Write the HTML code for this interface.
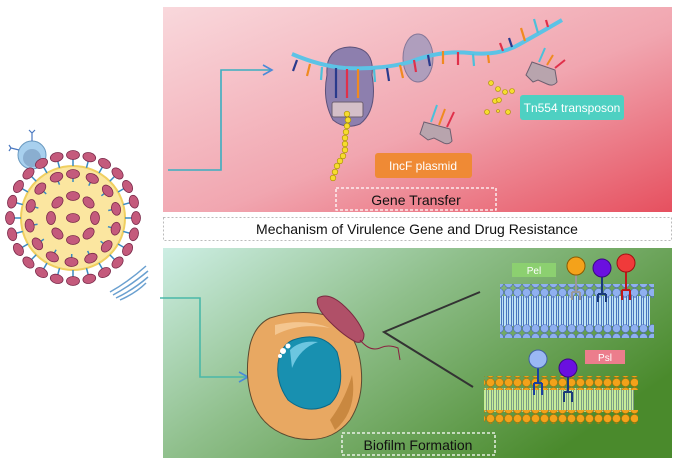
<!DOCTYPE html>
<html><head><meta charset="utf-8"><style>
html,body{margin:0;padding:0;background:#fff;width:677px;height:468px;overflow:hidden}
svg{display:block}
text{font-family:"Liberation Sans",sans-serif}
</style></head><body>
<svg width="677" height="468" viewBox="0 0 677 468" xmlns="http://www.w3.org/2000/svg">
<defs>
<linearGradient id="gtop" x1="0" y1="0" x2="1" y2="1">
<stop offset="0" stop-color="#f9d8dc"/><stop offset="0.55" stop-color="#f1a6b0"/><stop offset="1" stop-color="#e6505f"/>
</linearGradient>
<linearGradient id="gbot" x1="0" y1="0" x2="1" y2="0.6">
<stop offset="0" stop-color="#cdeee4"/><stop offset="0.45" stop-color="#8fbf8b"/><stop offset="1" stop-color="#4a8a2c"/>
</linearGradient>
<pattern id="pb" width="9" height="9" patternUnits="userSpaceOnUse"><circle cx="4.5" cy="4.5" r="4" fill="#8fb0f0" stroke="#4a66b8" stroke-width="0.6"/></pattern>
<pattern id="po" width="9" height="9" patternUnits="userSpaceOnUse"><circle cx="4.5" cy="4.5" r="4" fill="#f3a21a" stroke="#b26d00" stroke-width="0.6"/></pattern>
<pattern id="tb" width="5" height="30" patternUnits="userSpaceOnUse"><rect width="5" height="30" fill="#bfe3f5"/><path d="M1.5 0V30M3.5 0V30" stroke="#2d5bb0" stroke-width="0.8"/></pattern>
<pattern id="tg" width="5" height="30" patternUnits="userSpaceOnUse"><rect width="5" height="30" fill="#c6ec9a"/><path d="M1.5 0V30M3.5 0V30" stroke="#6a8a80" stroke-width="0.8"/></pattern>
</defs>

<rect x="163" y="7" width="509" height="205" fill="url(#gtop)"/>
<rect x="163.5" y="217.5" width="508" height="23" fill="#fff" stroke="#bbb" stroke-dasharray="2,2"/>
<text x="417" y="234" font-size="14" text-anchor="middle" fill="#111">Mechanism of Virulence Gene and Drug Resistance</text>
<rect x="163" y="248" width="509" height="210" fill="url(#gbot)"/>

<path d="M168 170H221V70H270" fill="none" stroke="#3aaec0" stroke-width="1.6"/>
<path d="M263 65L272 70L263 75" fill="none" stroke="#4a8ad8" stroke-width="1.6"/>
<path d="M160 298H200V377H246" fill="none" stroke="#4ab8a8" stroke-width="1.6"/>
<path d="M239 372L248 377L239 382" fill="none" stroke="#4a8ad8" stroke-width="1.6"/>

<path d="M327 75 Q325 48 350 47 Q375 48 372 75 Q378 110 360 124 Q345 130 333 120 Q322 100 327 75Z" fill="#8d7fae" stroke="#5d527a" stroke-width="1"/>
<ellipse cx="418" cy="58" rx="15" ry="24" fill="#a89cbd" stroke="#7a7094" opacity="0.9"/>
<path d="M292 54 Q320 66 345 68 Q380 70 410 62 Q440 50 470 53 Q500 56 520 44 Q545 30 562 20" fill="none" stroke="#5cc3e6" stroke-width="4"/>
<g stroke-width="2.2">
<path d="M297 60L293 71" stroke="#2a3a8c"/><path d="M310 64L307 76" stroke="#f08a20"/><path d="M322 67L321 80" stroke="#4cc0da"/>
<path d="M336 68V98" stroke="#2a3a8c"/><path d="M347 69V98" stroke="#e0304a"/><path d="M358 69V98" stroke="#f08a20"/><path d="M374 69L375 82" stroke="#4cc0da"/>
<path d="M387 68L389 81" stroke="#2a3a8c"/><path d="M400 65L403 78" stroke="#f08a20"/><path d="M414 60L416 72" stroke="#e0304a"/>
<path d="M428 55L430 66" stroke="#2a3a8c"/><path d="M443 51V64" stroke="#f08a20"/><path d="M458 52V65" stroke="#e0304a"/><path d="M473 54L474 66" stroke="#4cc0da"/>
<path d="M488 55L489 63" stroke="#f08a20"/><path d="M503 51L500 43" stroke="#e0304a"/><path d="M512 47L509 38" stroke="#2a3a8c"/>
<path d="M525 41L521 28" stroke="#f08a20"/><path d="M538 33L534 19" stroke="#4cc0da"/><path d="M548 27L546 20" stroke="#e0304a"/>
</g>
<rect x="332" y="102" width="31" height="15" rx="2" fill="#d4bfc8" stroke="#6d5f70"/>
<g fill="#f6dc2e" stroke="#a88e00" stroke-width="0.6">
<circle cx="347" cy="114" r="2.8"/><circle cx="348" cy="120" r="2.8"/><circle cx="347" cy="126" r="2.8"/><circle cx="346" cy="132" r="2.8"/><circle cx="345" cy="138" r="2.8"/><circle cx="345" cy="144" r="2.8"/><circle cx="345" cy="150" r="2.8"/><circle cx="343" cy="156" r="2.8"/><circle cx="340" cy="161" r="2.8"/><circle cx="337" cy="166" r="2.8"/><circle cx="335" cy="172" r="2.8"/><circle cx="333" cy="178" r="2.8"/>
<circle cx="491" cy="83" r="2.5"/><circle cx="498" cy="89" r="2.5"/><circle cx="505" cy="92" r="2.5"/><circle cx="512" cy="91" r="2.5"/><circle cx="495" cy="101" r="2.5"/><circle cx="499" cy="100" r="2.5"/><circle cx="487" cy="112" r="2.5"/><circle cx="508" cy="112" r="2.5"/><circle cx="498" cy="111" r="1.5"/>
</g>
<g>
<path d="M424 122L450 129L452 141Q448 146 442 142L434 138L428 140L420 134Z" fill="#b8a4ad" stroke="#6d5f70"/>
<path d="M431 122L437 105" stroke="#4cc0da" stroke-width="2"/><path d="M439 125L445 109" stroke="#f08a20" stroke-width="2"/><path d="M447 127L454 112" stroke="#e0304a" stroke-width="2"/>
<path d="M532 62L555 70L557 82Q553 87 547 84L538 80L533 82L526 75Z" fill="#b8a4ad" stroke="#6d5f70"/>
<path d="M539 62L545 48" stroke="#4cc0da" stroke-width="2"/><path d="M547 65L553 55" stroke="#f08a20" stroke-width="2"/><path d="M555 68L565 60" stroke="#e0304a" stroke-width="2"/>
</g>
<rect x="375" y="153" width="97" height="25" rx="3" fill="#ef8a35"/>
<text x="423" y="170" font-size="12" text-anchor="middle" fill="#fff">IncF plasmid</text>
<rect x="520" y="95" width="104" height="25" rx="3" fill="#4ed0c2"/>
<text x="572" y="112" font-size="12" text-anchor="middle" fill="#fff">Tn554 transposon</text>
<rect x="336" y="188" width="160" height="22" fill="none" stroke="#fff" stroke-width="1.3" stroke-dasharray="3,2"/>
<text x="416" y="205" font-size="14" text-anchor="middle" fill="#111">Gene Transfer</text>

<path d="M270 318 Q300 308 330 316 Q355 330 360 360 Q366 395 350 420 Q330 445 295 438 Q262 430 252 400 Q244 375 250 345 Q255 325 270 318Z" fill="#e8a862" stroke="#5a4a30" stroke-width="1"/>
<path d="M275 325 Q305 318 330 328 Q300 322 275 335Z" fill="#f4c690"/>
<path d="M330 420 Q345 400 352 375 Q358 410 335 430Z" fill="#c98840"/>
<path d="M293 340 Q322 330 337 352 Q347 388 330 404 Q308 416 288 400 Q274 380 279 358 Q283 344 293 340Z" fill="#1890b0" stroke="#0a6a8a"/>
<path d="M290 350 Q300 340 318 342 Q300 348 292 368Z" fill="#6cc6e0"/>
<circle cx="283" cy="351" r="3" fill="#fff"/><circle cx="288" cy="346" r="2.5" fill="#fff"/><circle cx="280" cy="356" r="2" fill="#fff"/>
<path d="M318 298 Q328 292 342 304 Q358 318 364 334 Q364 344 356 342 Q344 336 330 322 Q314 306 318 298Z" fill="#b05068" stroke="#7a2a40"/>
<path d="M360 340 Q370 352 380 348 Q388 344 398 348 L400 360" fill="none" stroke="#8a2040" stroke-width="1"/>
<path d="M480 292L384 332L473 387" fill="none" stroke="#333" stroke-width="2"/>

<rect x="500" y="296" width="150" height="30" fill="url(#tb)"/>
<rect x="500" y="284" width="154" height="14" fill="url(#pb)"/>
<rect x="500" y="324" width="154" height="14" fill="url(#pb)"/>
<rect x="484" y="388" width="150" height="24" fill="url(#tg)"/>
<rect x="484" y="376" width="154" height="14" fill="url(#po)"/>
<rect x="484" y="410" width="154" height="14" fill="url(#po)"/>
<g stroke-width="2" fill="none">
<path d="M576 275V292M572 292V300M580 292V300M572 292H580" stroke="#999"/>
<path d="M602 277V294M598 294V302M606 294V302M598 294H606" stroke="#1a3a7a"/>
<path d="M626 272V290M622 290V300M630 290V300M622 290H630" stroke="#c01818"/>
<path d="M538 368V383M534 383V395M542 383V395M534 383H542" stroke="#1a40a0"/>
<path d="M568 377V392M564 392V402M572 392V402M564 392H572" stroke="#1a3a7a"/>
</g>
<circle cx="576" cy="266" r="9" fill="#f4a21a" stroke="#8a5a00"/>
<circle cx="602" cy="268" r="9" fill="#6a10e0" stroke="#3a0a80"/>
<circle cx="626" cy="263" r="9" fill="#f03a3a" stroke="#a01010"/>
<circle cx="538" cy="359" r="9" fill="#9ab8f4" stroke="#4060a0"/>
<circle cx="568" cy="368" r="9" fill="#6a10e0" stroke="#3a0a80"/>
<rect x="512" y="263" width="44" height="14" fill="#8cd070"/>
<text x="534" y="274" font-size="10" text-anchor="middle" fill="#fff">Pel</text>
<rect x="585" y="350" width="40" height="14" fill="#ec7d8c"/>
<text x="605" y="361" font-size="10" text-anchor="middle" fill="#fff">Psl</text>
<rect x="342" y="433" width="153" height="22" fill="none" stroke="#fff" stroke-width="1.3" stroke-dasharray="3,2"/>
<text x="418" y="450" font-size="14" text-anchor="middle" fill="#111">Biofilm Formation</text>

<!-- virus -->
<g>
<circle cx="32" cy="155" r="14" fill="#a8d0ee" stroke="#6a9ac0"/>
<circle cx="32" cy="158" r="9" fill="#8aaed0"/>
<path d="M32 141V133M29 130L32 133L35 130M19 150L11 148M9 145L11 148L9 151" stroke="#4a78c0" stroke-width="1.2" fill="none"/>
<circle cx="73" cy="218" r="52" fill="#fbe6a0" stroke="#f0cf60" stroke-width="2"/>
<g fill="#c45a7c" stroke="#7a2a4a" stroke-width="0.8">
<g id="sp"><path d="M73 166V159" stroke="#3a8ac0" stroke-width="1.5"/><ellipse cx="73" cy="155" rx="6.5" ry="4.5"/></g>
<use href="#sp" transform="rotate(15 73 218)"/><use href="#sp" transform="rotate(30 73 218)"/><use href="#sp" transform="rotate(45 73 218)"/><use href="#sp" transform="rotate(60 73 218)"/><use href="#sp" transform="rotate(75 73 218)"/><use href="#sp" transform="rotate(90 73 218)"/><use href="#sp" transform="rotate(105 73 218)"/><use href="#sp" transform="rotate(120 73 218)"/><use href="#sp" transform="rotate(135 73 218)"/><use href="#sp" transform="rotate(150 73 218)"/><use href="#sp" transform="rotate(165 73 218)"/><use href="#sp" transform="rotate(180 73 218)"/><use href="#sp" transform="rotate(195 73 218)"/><use href="#sp" transform="rotate(210 73 218)"/><use href="#sp" transform="rotate(225 73 218)"/><use href="#sp" transform="rotate(240 73 218)"/><use href="#sp" transform="rotate(255 73 218)"/><use href="#sp" transform="rotate(270 73 218)"/><use href="#sp" transform="rotate(285 73 218)"/><use href="#sp" transform="rotate(300 73 218)"/><use href="#sp" transform="rotate(315 73 218)"/><use href="#sp" transform="rotate(330 73 218)"/><use href="#sp" transform="rotate(345 73 218)"/>
<g id="sq"><path d="M73 182V178" stroke="#3a8ac0" stroke-width="1.5"/><ellipse cx="73" cy="174" rx="6.5" ry="4.5"/></g>
<use href="#sq" transform="rotate(26 73 218)"/><use href="#sq" transform="rotate(52 73 218)"/><use href="#sq" transform="rotate(78 73 218)"/><use href="#sq" transform="rotate(104 73 218)"/><use href="#sq" transform="rotate(130 73 218)"/><use href="#sq" transform="rotate(156 73 218)"/><use href="#sq" transform="rotate(182 73 218)"/><use href="#sq" transform="rotate(208 73 218)"/><use href="#sq" transform="rotate(234 73 218)"/><use href="#sq" transform="rotate(260 73 218)"/><use href="#sq" transform="rotate(286 73 218)"/><use href="#sq" transform="rotate(312 73 218)"/><use href="#sq" transform="rotate(338 73 218)"/>
<g id="sr"><ellipse cx="73" cy="196" rx="6.5" ry="4.5"/></g>
<use href="#sr" transform="rotate(45 73 218)"/><use href="#sr" transform="rotate(90 73 218)"/><use href="#sr" transform="rotate(135 73 218)"/><use href="#sr" transform="rotate(180 73 218)"/><use href="#sr" transform="rotate(225 73 218)"/><use href="#sr" transform="rotate(270 73 218)"/><use href="#sr" transform="rotate(315 73 218)"/>
<ellipse cx="73" cy="218" rx="6.5" ry="4.5"/>
</g>
<g fill="none" stroke="#6aa0d0" stroke-width="1.5">
<path d="M110 292 Q128 282 146 266"/><path d="M113 295 Q130 286 148 271"/><path d="M116 298 Q133 290 148 277"/><path d="M120 300 Q136 293 146 283"/>
</g>
</g>
</svg>
</body></html>
